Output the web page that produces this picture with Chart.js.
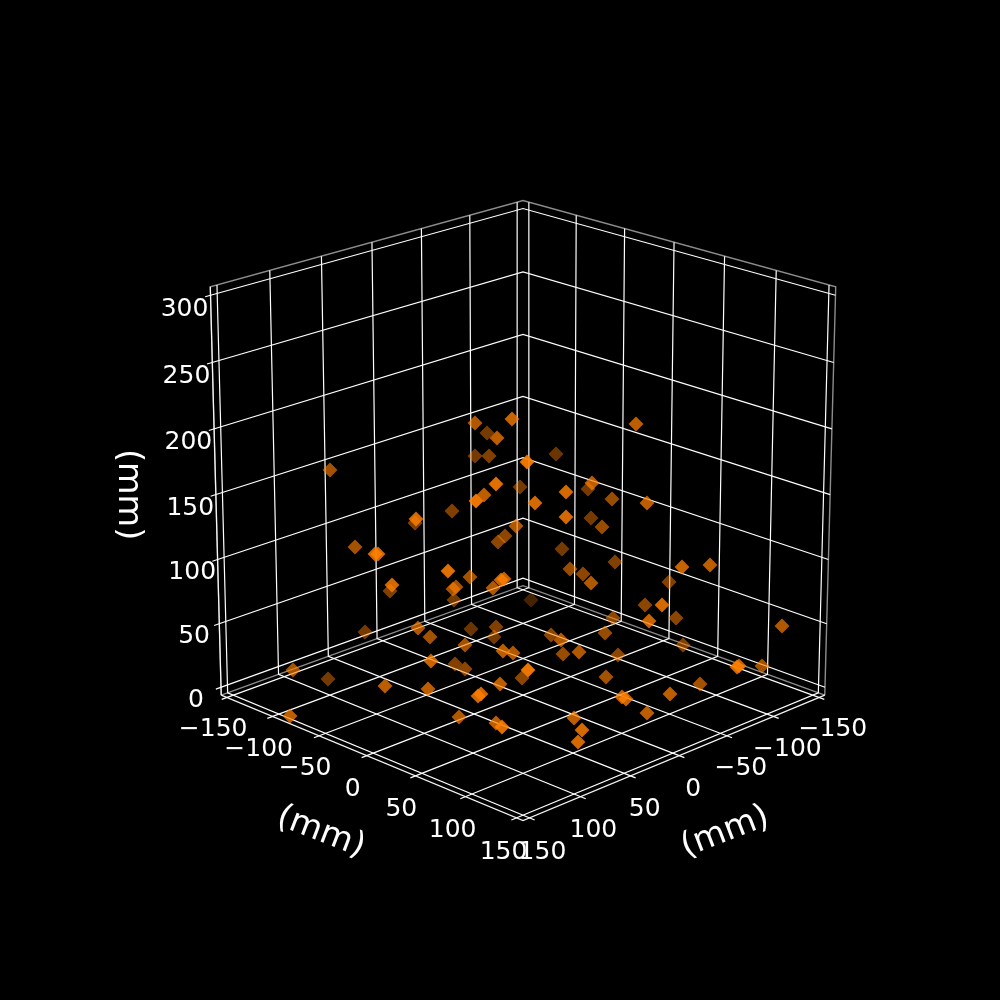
<!DOCTYPE html>
<html>
<head>
<meta charset="utf-8">
<style>html,body{margin:0;padding:0;background:#000}#w{width:1000px;height:1000px}</style>
<script src="https://cdn.jsdelivr.net/npm/chart.js@4"></script>
</head>
<body>
<div id="w"><canvas id="c" width="1000" height="1000"></canvas></div>
<script>
// Axis ticks (mm)
const xTicks = [-150,-100,-50,0,50,100,150];
const yTicks = [-150,-100,-50,0,50,100,150];
const zTicks = [0,50,100,150,200,250,300];
const axisTitle = "(mm)";
// Scatter marks: position on the view plane, and depth shade
const planeX = [475,487,497,512,475,489,527,496,484,476,520,535,452,416,415,330,516,
  636,556,592,588,566,612,647,566,591,602,
  505,498,355,375,378,448,470,504,501,493,453,456,392,390,454,531,418,365,471,496,494,430,465,503,513,431,455,465,528,522,293,328,385,428,500,481,478,290,459,496,502,
  562,615,570,583,591,682,710,669,645,662,676,649,613,605,782,551,561,683,563,579,618,737,739,762,606,700,670,622,626,647,574,582,578];
const planeY = [423,433,438,419,456,456,462,484,495,501,487,503,511,519,523,470,526,
  424,454,483,489,492,499,503,517,518,527,
  536,542,547,554,554,571,577,579,580,588,589,587,585,591,600,600,628,632,629,627,637,637,645,651,653,661,664,669,670,678,670,679,686,689,684,694,696,716,717,723,727,
  549,562,569,574,583,567,565,582,605,605,618,621,618,633,626,635,640,645,654,652,655,667,666,666,677,684,694,697,699,713,718,730,742];
const planeShade = [.75,.5,.8,.85,.5,.55,1,.95,.8,1,.5,.9,.55,.9,.55,.7,.75,
  .8,.45,.8,.5,.9,.65,.8,.9,.5,.65,
  .6,.6,.7,.9,.9,.95,.7,.85,.85,.75,.7,.7,.9,.55,.5,.3,.75,.5,.45,.55,.5,.7,.7,.8,.75,.85,.55,.6,1,.6,.7,.5,.8,.8,.8,.9,.9,.8,.75,.8,.95,
  .5,.55,.65,.6,.75,.85,.8,.55,.6,.9,.6,.85,.6,.65,.75,.6,.75,.55,.65,.75,.6,.9,.85,.7,.7,.7,.8,.85,.85,.8,.8,.9,.9];

// View of the 3D box
const ELEV = 20*Math.PI/180, AZIM = 45*Math.PI/180, DIST = 10, SCALE = 4170, CX = 523, CY = 494.6;
const PAD = 6.25; // box margin beyond the axis limits, mm
const [xLo,xHi] = [-150,150], [zLo,zHi] = [0,300];
const bx0 = xLo-PAD, bx1 = xHi+PAD, bz0 = zLo-PAD, bz1 = zHi+PAD;
function project(x,y,z){
  const X = x/300, Y = y/300, Z = (z-150)/300;
  const ce=Math.cos(ELEV), se=Math.sin(ELEV), ca=Math.cos(AZIM), sa=Math.sin(AZIM);
  const xv = -sa*X + ca*Y;
  const yv = -se*ca*X - se*sa*Y + ce*Z;
  const d  = ce*ca*X + ce*sa*Y + se*Z;
  return {x: CX + SCALE*xv/(DIST-d), y: CY - SCALE*yv/(DIST-d)};
}
function line(pts,color,width,order){
  return {type:'scatter',showLine:true,data:pts.map(p=>project(...p)),borderColor:color,borderWidth:width,
    pointRadius:0,pointHoverRadius:0,fill:false,tension:0,order:order,clip:false};
}
const GRID='rgba(255,255,255,1)', EDGE='rgba(255,255,255,0.55)', AX='rgba(255,255,255,0.95)';
const TICK=5; // tick overshoot, mm
const datasets=[];
// pane outline
datasets.push(line([[bx1,bx0,bz0],[bx1,bx0,bz1],[bx0,bx0,bz1],[bx0,bx1,bz1],[bx0,bx1,bz0]],EDGE,1.4,50));
datasets.push(line([[bx1,bx0,bz0],[bx0,bx0,bz0],[bx0,bx1,bz0]],EDGE,1.4,50));
// axis lines
datasets.push(line([[bx1,bx0,bz0],[bx1,bx1,bz0],[bx0,bx1,bz0]],AX,1.2,40));
datasets.push(line([[bx1,bx0,bz0],[bx1,bx0,bz1]],AX,1.2,40));
// grid
xTicks.forEach(t=>datasets.push(line([[t,bx1+TICK,bz0],[t,bx0,bz0],[t,bx0,bz1]],GRID,1.2,30)));
yTicks.forEach(t=>datasets.push(line([[bx1+TICK,t,bz0],[bx0,t,bz0],[bx0,t,bz1]],GRID,1.2,30)));
zTicks.forEach(t=>datasets.push(line([[bx1+TICK,bx0,t],[bx0,bx0,t],[bx0,bx1,t]],GRID,1.2,30)));
// scatter
datasets.push({type:'scatter',data:planeX.map((v,i)=>({x:v,y:planeY[i]})),pointStyle:'rectRot',pointRadius:7.2,pointHoverRadius:7.2,
  pointBackgroundColor:planeShade.map(a=>`rgba(255,127,0,${a*0.92})`),pointBorderColor:planeShade.map(a=>`rgba(255,127,0,${a*0.4})`),pointBorderWidth:1,order:1,clip:false});

const FONT='"DejaVu Sans"';
const textPlugin={id:'axisText',afterDraw(chart){
  const g=chart.ctx; g.save(); g.fillStyle='#fff'; g.textAlign='center'; g.textBaseline='middle';
  g.font=`25px ${FONT}`;
  const fmt=t=>String(t).replace('-','\u2212');
  yTicks.forEach(t=>{const p=project(bx1+14,t,bz0-21.5); g.fillText(fmt(t),p.x+(t>=100?1.5:0),p.y);});
  xTicks.forEach(t=>{const p=project(t,bx1+14,bz0-21.5); g.fillText(fmt(t),p.x-(t>=100?1.5:0),p.y);});
  zTicks.forEach(t=>{const p=project(bx1+13.2,bx0-13.2,t-10.3); g.fillText(fmt(t),p.x,p.y);});
  g.font=`33.5px ${FONT}`;
  const rot=(lx,ly,a)=>{g.save();g.translate(lx,ly);g.rotate(a*Math.PI/180);g.fillText(axisTitle,0,0);g.restore();};
  const ly=project(bx1+45,0,bz0-45), lx=project(0,bx1+45,bz0-45), lz=project(bx1+44.8,bx0-44.8,150);
  rot(ly.x,ly.y,21); rot(lx.x,lx.y,-21); rot(lz.x,lz.y,90);
  g.restore();
}};
Chart.defaults.font.family='DejaVu Sans';
new Chart(document.getElementById('c'),{
  data:{datasets},
  plugins:[textPlugin],
  options:{responsive:false,animation:false,events:[],layout:{padding:0,autoPadding:false},
    plugins:{legend:{display:false},tooltip:{enabled:false},title:{display:false}},
    scales:{x:{type:'linear',min:0,max:1000,display:false},y:{type:'linear',min:0,max:1000,reverse:true,display:false}}}
});
</script>
</body>
</html>
